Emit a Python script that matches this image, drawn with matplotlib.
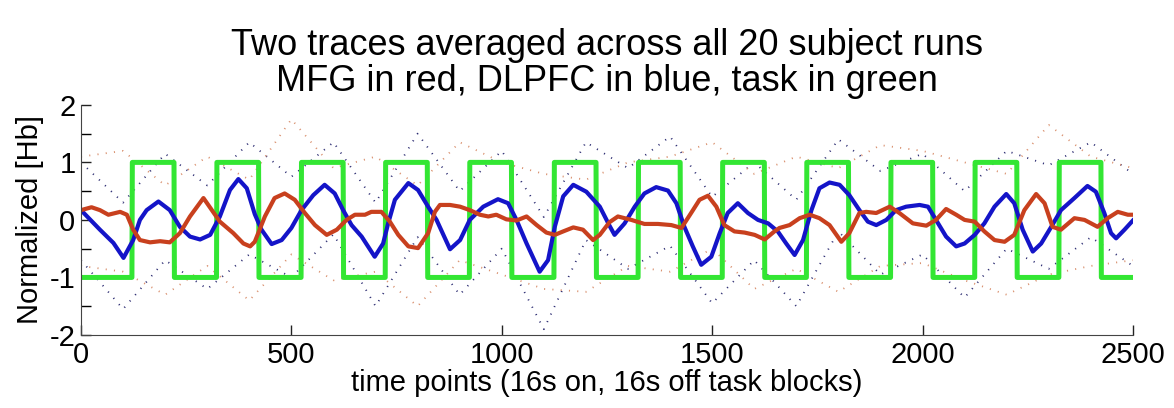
import numpy as np
import matplotlib.pyplot as plt
from matplotlib.ticker import MultipleLocator
from matplotlib import font_manager

# narrow sans if it is there, else regular
names = {f.name for f in font_manager.fontManager.ttflist}
family = ['Liberation Sans Narrow'] if 'Liberation Sans Narrow' in names else ['Liberation Sans']
plt.rcParams['font.family'] = family + ['DejaVu Sans']
plt.rcParams['axes.unicode_minus'] = False

# task blocks: onset of each "on" block, block length in time points
task_onsets = [122, 323, 524, 724, 924, 1125, 1325, 1525, 1725, 1925, 2125, 2325]
block_len = 100
n_points = 2500

# DLPFC mean trace (blue)
dlpfc_t = [0, 45, 77, 101, 124, 140, 156, 184, 211, 235, 259, 283, 307, 330, 354, 374,
           394, 413, 429, 453, 477, 500, 524, 552, 579, 603, 623, 643, 667, 698, 718,
           730, 746, 778, 801, 825, 845, 877, 901, 924, 956, 991, 1015, 1035, 1059,
           1090, 1110, 1126, 1146, 1170, 1201, 1233, 1256, 1268, 1292, 1316, 1339,
           1367, 1395, 1415, 1434, 1454, 1474, 1498, 1518, 1537, 1561, 1585, 1609,
           1633, 1656, 1676, 1696, 1716, 1736, 1755, 1779, 1803, 1826, 1850, 1870,
           1890, 1914, 1937, 1961, 1993, 2013, 2032, 2056, 2080, 2100, 2124, 2147,
           2171, 2199, 2218, 2238, 2262, 2282, 2306, 2329, 2361, 2392, 2412, 2432,
           2448, 2460, 2480, 2500]
dlpfc = [0.17, -0.17, -0.40, -0.66, -0.35, 0.0, 0.17, 0.32, 0.17, -0.12, -0.29, -0.34,
         -0.26, 0.06, 0.52, 0.71, 0.55, 0.10, -0.17, -0.42, -0.35, -0.14, 0.17, 0.43,
         0.61, 0.46, 0.17, -0.09, -0.29, -0.64, -0.41, -0.06, 0.35, 0.64, 0.52, 0.23,
         0.0, -0.51, -0.35, 0.0, 0.23, 0.36, 0.29, 0.0, -0.41, -0.90, -0.70, -0.12,
         0.41, 0.61, 0.49, 0.23, -0.10, -0.26, -0.06, 0.23, 0.46, 0.57, 0.51, 0.29,
         -0.12, -0.46, -0.78, -0.64, -0.23, 0.12, 0.29, 0.12, 0.0, -0.06, -0.20,
         -0.41, -0.61, -0.35, 0.17, 0.55, 0.65, 0.61, 0.43, 0.17, -0.03, -0.09, 0.0,
         0.17, 0.23, 0.26, 0.23, 0.0, -0.29, -0.46, -0.41, -0.26, -0.06, 0.23, 0.45,
         0.29, -0.17, -0.55, -0.41, -0.12, 0.17, 0.38, 0.59, 0.49, 0.12, -0.23, -0.32,
         -0.17, -0.01]

# MFG mean trace (red)
mfg_t = [0, 25, 45, 65, 93, 109, 124, 140, 164, 188,
         211, 235, 259, 291, 311, 330, 362, 386, 402, 413,
         437, 460, 484, 508, 532, 556, 584, 608, 631, 651,
         675, 690, 714, 734, 754, 778, 801, 825, 841, 853,
         877, 901, 924, 948, 968, 987, 1011, 1035, 1059, 1083,
         1106, 1126, 1146, 1170, 1193, 1217, 1233, 1256, 1276, 1308,
         1339, 1371, 1403, 1427, 1450, 1470, 1490, 1510, 1529, 1553,
         1577, 1601, 1625, 1648, 1660, 1684, 1708, 1732, 1755, 1779,
         1807, 1826, 1850, 1866, 1890, 1922, 1945, 1977, 2009, 2032,
         2056, 2080, 2100, 2124, 2147, 2171, 2195, 2218, 2242, 2270,
         2290, 2309, 2329, 2361, 2385, 2416, 2440, 2464, 2488, 2500]
mfg = [0.17, 0.22, 0.17, 0.09, 0.14, 0.09, -0.17, -0.35, -0.39, -0.37,
       -0.39, -0.23, 0.06, 0.38, 0.17, -0.03, -0.23, -0.41, -0.46, -0.38,
       0.06, 0.38, 0.46, 0.35, 0.12, -0.09, -0.26, -0.17, 0.0, 0.09,
       0.09, 0.14, 0.14, -0.03, -0.26, -0.46, -0.49, -0.23, 0.14, 0.26,
       0.26, 0.23, 0.17, 0.09, 0.06, 0.09, 0.01, -0.01, 0.06, -0.09,
       -0.22, -0.26, -0.20, -0.13, -0.17, -0.35, -0.26, -0.04, 0.06, 0.0,
       -0.07, -0.07, -0.09, -0.14, 0.12, 0.35, 0.42, 0.23, -0.09, -0.20,
       -0.22, -0.26, -0.34, -0.20, -0.14, -0.09, 0.03, 0.09, 0.03, -0.09,
       -0.38, -0.23, 0.12, 0.14, 0.12, 0.23, 0.12, -0.06, -0.10, 0.0,
       0.19, 0.09, 0.0, -0.03, -0.20, -0.35, -0.38, -0.26, 0.17, 0.45,
       0.29, -0.12, -0.17, 0.03, 0.0, -0.12, 0.03, 0.14, 0.09, 0.09]

# spread around each mean (dotted), read every 100 points
band_t = np.arange(0, 2501, 100)
dlpfc_hi = [1.0, 0.3, 1.15, 0.6, 1.35, 0.75, 1.35, 0.3, 1.5, 0.5, 1.2, 0.05, 1.35,
            0.9, 1.45, 0.4, 1.0, 0.35, 1.4, 0.85, 1.15, 0.5, 1.2, 0.95, 1.35, 0.8]
dlpfc_lo = [-0.7, -1.55, -0.7, -1.2, -0.6, -1.0, -0.25, -1.5, -0.3, -1.3, -0.5, -1.9,
            -0.35, -0.85, -0.45, -1.45, -0.7, -1.5, -0.2, -0.95, -0.6, -1.35, -0.5,
            -0.85, -0.3, -0.8]
mfg_hi = [1.1, 1.2, 0.6, 1.1, 0.7, 1.75, 0.9, 1.1, 0.6, 1.35, 1.0, 0.8, 0.7, 1.0,
          1.1, 1.35, 0.8, 1.1, 0.9, 1.3, 1.2, 1.0, 0.8, 1.65, 1.1, 0.9]
mfg_lo = [-0.8, -0.9, -1.3, -0.8, -1.4, -0.6, -1.05, -0.9, -1.5, -0.7, -0.95, -1.2,
          -1.25, -0.8, -0.9, -0.5, -1.2, -0.85, -1.25, -0.8, -0.75, -1.05, -1.3,
          -0.95, -0.8, -0.7]

# task regressor: -1 off, +1 on
t = np.arange(n_points + 1)
task = np.full(t.shape, -1.0)
for on in task_onsets:
    task[on:on + block_len] = 1.0

fig = plt.figure(figsize=(11.74, 4.08), dpi=100)
ax = fig.add_axes([0.069, 0.179, 0.896, 0.564])

dot_kw = dict(linestyle=(0, (0.6, 4.0)), linewidth=1.3)
ax.plot(band_t, dlpfc_hi, color='#2a2a70', **dot_kw)
ax.plot(band_t, dlpfc_lo, color='#2a2a70', **dot_kw)
ax.plot(band_t, mfg_hi, color='#d9906e', **dot_kw)
ax.plot(band_t, mfg_lo, color='#d9906e', **dot_kw)

ax.plot(t, task, color='#33e633', linewidth=3.6)
ax.plot(dlpfc_t, dlpfc, color='#1414c8', linewidth=3.0)
ax.plot(mfg_t, mfg, color='#c8401e', linewidth=3.0)

ax.set_xlim(0, 2500)
ax.set_ylim(-2, 2)
ax.xaxis.set_major_locator(MultipleLocator(500))
ax.yaxis.set_major_locator(MultipleLocator(1))
ax.yaxis.set_minor_locator(MultipleLocator(0.5))
ax.tick_params(direction='in', labelsize=21, length=7, width=1, pad=4, colors='#222222')
ax.tick_params(which='minor', direction='in', length=7, width=1)
for tl in ax.get_xticklabels() + ax.get_yticklabels():
    tl.set_color('black')

ax.spines['top'].set_visible(False)
ax.spines['right'].set_visible(False)
for s in ('left', 'bottom'):
    ax.spines[s].set_color('#444444')

ax.set_xlabel('time points (16s on, 16s off task blocks)', fontsize=21, labelpad=0)
ax.set_ylabel('Normalized [Hb]', fontsize=21, labelpad=4)
ax.set_title('Two traces averaged across all 20 subject runs\n'
             'MFG in red, DLPFC in blue, task in green',
             fontsize=26, linespacing=1.05, pad=10)

fig.savefig('out.png', dpi=100)
